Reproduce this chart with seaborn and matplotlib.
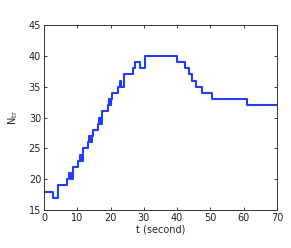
import matplotlib
matplotlib.use('Agg')
import matplotlib.pyplot as plt
import seaborn as sns
import pandas as pd

# step change times (s) and the value held from each time on
t_sec = [0, 2.6, 4.3, 7.0, 7.5, 8.0, 8.6,
         10.3, 10.8, 11.0, 11.2, 11.4, 11.6, 11.8,
         13.3, 13.6, 13.8, 14.0, 14.2, 14.4, 14.6,
         16.2, 16.5, 16.7, 16.9, 17.1, 17.3, 17.5,
         19.1, 19.4, 19.6, 19.8, 20.0, 20.2, 20.4,
         22.3, 22.7, 23.2, 23.9, 26.8, 27.4, 28.9, 30.4,
         40.0, 42.4, 43.6, 44.6, 45.6, 47.4, 50.5, 60.9, 70]
n_tr = [18, 17, 19, 20, 21, 20, 22,
        23, 24, 23, 24, 23, 24, 25,
        26, 27, 26, 27, 26, 27, 28,
        29, 30, 29, 30, 29, 30, 31,
        32, 33, 32, 33, 32, 33, 34,
        35, 36, 35, 37, 38, 39, 38, 40,
        39, 38, 37, 36, 35, 34, 33, 32, 32]

x_ticks = [0, 10, 20, 30, 40, 50, 60, 70]
y_ticks = [15, 20, 25, 30, 35, 40, 45]

df = pd.DataFrame({'t': t_sec, 'N': n_tr})

sns.set_style('white')
plt.rcParams['font.family'] = ['DejaVu Sans']

fig = plt.figure(figsize=(2.91, 2.48), dpi=100)
ax = fig.add_axes([0.151, 0.153, 0.801, 0.746])
sns.lineplot(data=df, x='t', y='N', ax=ax, estimator=None, sort=False,
             drawstyle='steps-post', color='#1f3cff', linewidth=1.5)

ax.set_xlim(0, 70)
ax.set_ylim(15, 45)
ax.set_xticks(x_ticks)
ax.set_yticks(y_ticks)
ax.tick_params(direction='in', length=2.5, width=0.6, labelsize=7,
               top=True, right=True, bottom=True, left=True, pad=2,
               colors='#222222')
for s in ax.spines.values():
    s.set_color('#333333')
    s.set_linewidth(0.7)
ax.set_xlabel('t (second)', fontsize=7, labelpad=1)
ax.set_ylabel(r'N$_{\rm tr}$', fontsize=7, labelpad=6)

fig.savefig('out.png', dpi=100)
plt.close(fig)
